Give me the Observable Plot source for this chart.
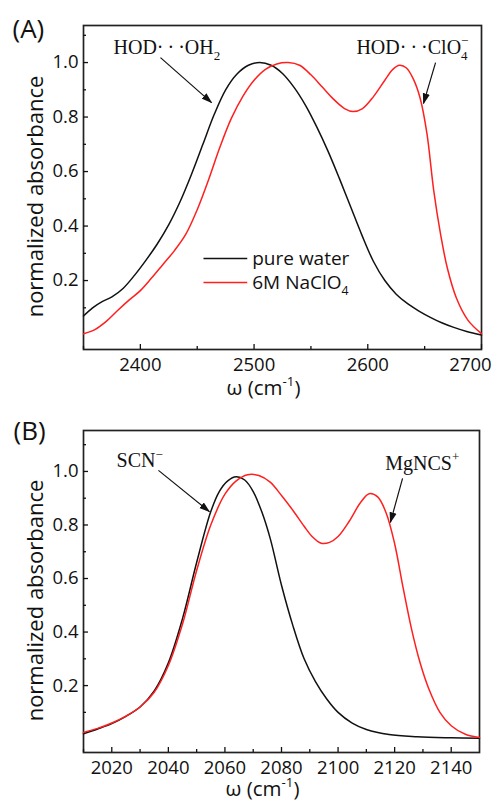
<!DOCTYPE html>
<html><head><meta charset="utf-8">
<script src="https://cdn.jsdelivr.net/npm/d3@7"></script>
<script src="https://cdn.jsdelivr.net/npm/@observablehq/plot@0.6"></script>
<style>body{margin:0;background:#fff} svg{display:block}</style>
</head><body><div id="chart"></div>
<script>
// ---------- Panel A data: HOD OD-stretch ----------
const waterOmega = [2350, 2358, 2366, 2375, 2385, 2395, 2405, 2415, 2425, 2435, 2445, 2455, 2465, 2475, 2485, 2495, 2505, 2515, 2525, 2535, 2545, 2555, 2565, 2575, 2585, 2595, 2605, 2615, 2625, 2635, 2645, 2655, 2665, 2675, 2687, 2700];
const waterAbs   = [0.07, 0.10, 0.122, 0.14, 0.172, 0.22, 0.275, 0.335, 0.405, 0.49, 0.59, 0.70, 0.81, 0.90, 0.958, 0.99, 1.0, 0.99, 0.96, 0.91, 0.845, 0.765, 0.675, 0.575, 0.47, 0.365, 0.27, 0.20, 0.15, 0.115, 0.088, 0.065, 0.045, 0.029, 0.013, 0.0];
const saltOmega  = [2350, 2360, 2370, 2380, 2390, 2400, 2410, 2420, 2430, 2440, 2450, 2460, 2470, 2480, 2490, 2500, 2510, 2520, 2530, 2540, 2550, 2560, 2570, 2580, 2587, 2595, 2605, 2615, 2622, 2628, 2634, 2640, 2646, 2652, 2658, 2664, 2670, 2678, 2688, 2700];
const saltAbs    = [0.005, 0.02, 0.05, 0.09, 0.128, 0.163, 0.21, 0.26, 0.31, 0.37, 0.46, 0.57, 0.69, 0.795, 0.875, 0.935, 0.975, 0.995, 1.0, 0.99, 0.955, 0.91, 0.865, 0.83, 0.82, 0.83, 0.875, 0.935, 0.975, 0.99, 0.98, 0.94, 0.87, 0.74, 0.53, 0.37, 0.245, 0.135, 0.055, 0.005];
const seriesNamesA = ["pure water", "6M NaClO_{4}"];

// ---------- Panel B data: SCN CN-stretch ----------
const scnOmega = [2010, 2015, 2020, 2025, 2030, 2035, 2040, 2045, 2050, 2055, 2058, 2061, 2064, 2067, 2070, 2073, 2076, 2080, 2084, 2088, 2092, 2096, 2100, 2105, 2110, 2118, 2128, 2140, 2150];
const scnAbs   = [0.02, 0.038, 0.058, 0.085, 0.12, 0.18, 0.285, 0.45, 0.66, 0.85, 0.925, 0.965, 0.98, 0.968, 0.925, 0.85, 0.75, 0.575, 0.425, 0.30, 0.215, 0.15, 0.10, 0.06, 0.036, 0.017, 0.009, 0.005, 0.003];
const mgOmega  = [2010, 2015, 2020, 2025, 2030, 2035, 2040, 2045, 2050, 2055, 2060, 2064, 2068, 2072, 2076, 2080, 2084, 2088, 2091, 2094, 2097, 2100, 2104, 2108, 2111, 2114, 2117, 2120, 2123, 2126, 2129, 2132, 2136, 2140, 2145, 2150];
const mgAbs    = [0.025, 0.04, 0.06, 0.086, 0.12, 0.175, 0.275, 0.43, 0.63, 0.80, 0.915, 0.965, 0.988, 0.985, 0.96, 0.91, 0.855, 0.795, 0.755, 0.732, 0.735, 0.757, 0.815, 0.885, 0.917, 0.905, 0.845, 0.73, 0.565, 0.41, 0.285, 0.19, 0.10, 0.05, 0.018, 0.006];

// ---------- ticks ----------
const xTicksA = [2400, 2500, 2600];
const xEdgeTickA = [2700];
const xMinorA = [2350, 2450, 2550, 2650];
const xTicksB = [2020, 2040, 2060, 2080, 2100, 2120, 2140];
const xMinorB = [2010, 2030, 2050, 2070, 2090, 2110, 2130];
const yTicks = [0.2, 0.4, 0.6, 0.8, 1.0];
const yMinor = [0.1, 0.3, 0.5, 0.7, 0.9, 1.1];

// ---------- annotations (data coordinates) ----------
const notesA  = [{text: "HOD·\u2009·\u2009·OH_{2}", x: 2376.4, y: 1.033}, {text: "HOD·\u2009·\u2009·ClO_{4}^{−}", x: 2590, y: 1.03}];
const arrowsA = [{x1: 2417.7, y1: 1.018, x2: 2462.6, y2: 0.853}, {x1: 2659.6, y1: 1.0, x2: 2649, y2: 0.85}];
const notesB  = [{text: "SCN^{−}", x: 2021.7, y: 1.015}, {text: "MgNCS^{+}", x: 2116.7, y: 1.007}];
const arrowsB = [{x1: 2036.5, y1: 1.004, x2: 2054.5, y2: 0.85}, {x1: 2122.8, y1: 0.974, x2: 2118.5, y2: 0.81}];
const legendA = [{x1: 2455.5, x2: 2494, y: 0.281}, {x1: 2455.5, x2: 2494, y: 0.193}];

const BLACK = "#111", RED = "#ff1f1f";
const SANS = "'Open Sans', sans-serif", SERIF = "'Liberation Serif', serif";

function filledArrow(color) {
  const m = d3.create("svg:marker")
    .attr("viewBox", "-10 -4 11 8")
    .attr("markerWidth", 11).attr("markerHeight", 8)
    .attr("markerUnits", "userSpaceOnUse")
    .attr("orient", "auto")
    .attr("fill", color).attr("stroke", "none");
  m.append("path").attr("d", "M-10,-3.6L1,0L-10,3.6Z");
  return m.node();
}

function toRows(xs, ys) { return xs.map((x, i) => ({x, y: ys[i]})); }

function panel(o) {
  const marks = [
    Plot.frame({stroke: "#222", strokeWidth: 1.7}),
    Plot.axisX(o.xTicks, {tickSize: -5, tickPadding: 13, strokeWidth: 1.3, tickFormat: d => String(d), fontSize: 18.5}),
    Plot.axisX(o.xMinor, {tickSize: -3, tickPadding: 13, strokeWidth: 1.3, tickFormat: () => ""}),
    Plot.axisY(yTicks, {tickSize: -5, tickPadding: 10, strokeWidth: 1.3, tickFormat: d3.format(".1f"), fontSize: 18.5}),
    Plot.axisY(yMinor, {tickSize: -3, tickPadding: 10, strokeWidth: 1.3, tickFormat: () => ""}),
    ...o.series.map(s => Plot.line(toRows(s.x, s.y), {x: "x", y: "y", stroke: s.color, strokeWidth: 1.5, curve: "catmull-rom"})),
    Plot.link(o.arrows, {x1: "x1", y1: "y1", x2: "x2", y2: "y2", stroke: BLACK, strokeWidth: 1.2, markerEnd: filledArrow}),
    Plot.text(o.notes, {x: "x", y: "y", text: "text", textAnchor: "start", lineAnchor: "bottom", fontFamily: SERIF, fontSize: 20, fill: BLACK}),
    Plot.text([o.label], {frameAnchor: "top-left", dx: o.labelDx, dy: o.labelDy, textAnchor: "start", lineAnchor: "bottom", fontSize: 26, fill: BLACK}),
    Plot.text(["normalized absorbance"], {frameAnchor: "left", rotate: -90, dx: -41, dy: 9, textAnchor: "middle", lineAnchor: "bottom", fontSize: 22, fill: BLACK}),
    Plot.text(["ω (cm^{-1})"], {frameAnchor: "bottom", dx: -19, dy: o.xLabelDy, textAnchor: "middle", lineAnchor: "bottom", fontSize: 20.5, fill: BLACK})
  ];
  if (o.xEdge) {
    marks.push(Plot.axisX(o.xEdge, {tickSize: -5, tickPadding: 13, strokeWidth: 1.3, tickFormat: () => ""}));
    marks.push(Plot.axisX(o.xEdge, {tickSize: 0, tickPadding: 8, dx: -11, strokeWidth: 0, tickFormat: d => String(d), fontSize: 18.5}));
  }
  if (o.legend) {
    marks.push(Plot.link(o.legend, {x1: "x1", x2: "x2", y1: "y", y2: "y", stroke: (d, i) => o.series[i].color, strokeWidth: 1.6}));
    marks.push(Plot.text(o.legend, {x: "x2", y: "y", text: (d, i) => o.series[i].name, dx: 5, dy: 7, textAnchor: "start", lineAnchor: "bottom", fontSize: 19, fill: BLACK}));
  }
  return Plot.plot({
    width: 497, height: o.height,
    marginLeft: 83, marginRight: o.marginRight, marginTop: o.marginTop, marginBottom: o.marginBottom,
    x: {domain: o.xDomain, axis: null, label: null},
    y: {domain: o.yDomain, axis: null, label: null},
    style: {fontFamily: SANS, fontSize: "19px", color: BLACK, background: "white", overflow: "visible"},
    marks
  });
}

function richify(svg) {
  d3.select(svg).selectAll("text").each(function () {
    const s = this.textContent;
    if (!/[_^]\{/.test(s)) return;
    const fs = parseFloat(getComputedStyle(this).fontSize);
    const out = [];
    let i = 0, buf = "";
    while (i < s.length) {
      if ((s[i] === "_" || s[i] === "^") && s[i + 1] === "{") {
        if (buf) { out.push({t: "n", a: buf}); buf = ""; }
        const close = s.indexOf("}", i);
        const txt = s.slice(i + 2, close);
        const type = s[i] === "_" ? "sub" : "sup";
        i = close + 1;
        if (type === "sub" && s[i] === "^" && s[i + 1] === "{") {
          const c2 = s.indexOf("}", i);
          out.push({t: "subsup", a: txt, b: s.slice(i + 2, c2)});
          i = c2 + 1;
        } else out.push({t: type, a: txt});
      } else buf += s[i++];
    }
    if (buf) out.push({t: "n", a: buf});
    const sel = d3.select(this).text(null);
    let base = 0;
    const to = (v) => { const d = v - base; base = v; return d; };
    const small = 0.65 * fs;
    for (const p of out) {
      if (p.t === "n") sel.append("tspan").attr("dy", to(0)).text(p.a);
      else if (p.t === "sub") sel.append("tspan").attr("dy", to(0.3 * fs)).attr("font-size", small).text(p.a);
      else if (p.t === "sup") sel.append("tspan").attr("dy", to(-0.42 * fs)).attr("font-size", small).text(p.a);
      else {
        const t1 = sel.append("tspan").attr("dy", to(0.3 * fs)).attr("font-size", small).text(p.a);
        const w = t1.node().getComputedTextLength();
        sel.append("tspan").attr("dx", -w).attr("dy", to(-0.45 * fs)).attr("font-size", small).text(p.b);
      }
    }
  });
}

const A = panel({
  height: 400, marginTop: 25, marginBottom: 51, marginRight: 16,
  xDomain: [2350, 2700], yDomain: [-0.053, 1.136],
  xTicks: xTicksA, xMinor: xMinorA, xEdge: xEdgeTickA,
  series: [
    {x: waterOmega, y: waterAbs, color: BLACK, name: seriesNamesA[0]},
    {x: saltOmega, y: saltAbs, color: RED, name: seriesNamesA[1]}
  ],
  arrows: arrowsA, notes: notesA, legend: legendA,
  label: "(A)", labelDx: -71, labelDy: 12, xLabelDy: 45
});
const B = panel({
  height: 408, marginTop: 30, marginBottom: 56, marginRight: 18,
  xDomain: [2010, 2150], yDomain: [-0.05, 1.153],
  xTicks: xTicksB, xMinor: xMinorB, xEdge: null,
  series: [
    {x: scnOmega, y: scnAbs, color: BLACK},
    {x: mgOmega, y: mgAbs, color: RED}
  ],
  arrows: arrowsB, notes: notesB, legend: null,
  label: "(B)", labelDx: -70, labelDy: 9, xLabelDy: 43
});
const root = document.getElementById("chart");
root.appendChild(A);
root.appendChild(B);
richify(A);
richify(B);
</script>
</body></html>
